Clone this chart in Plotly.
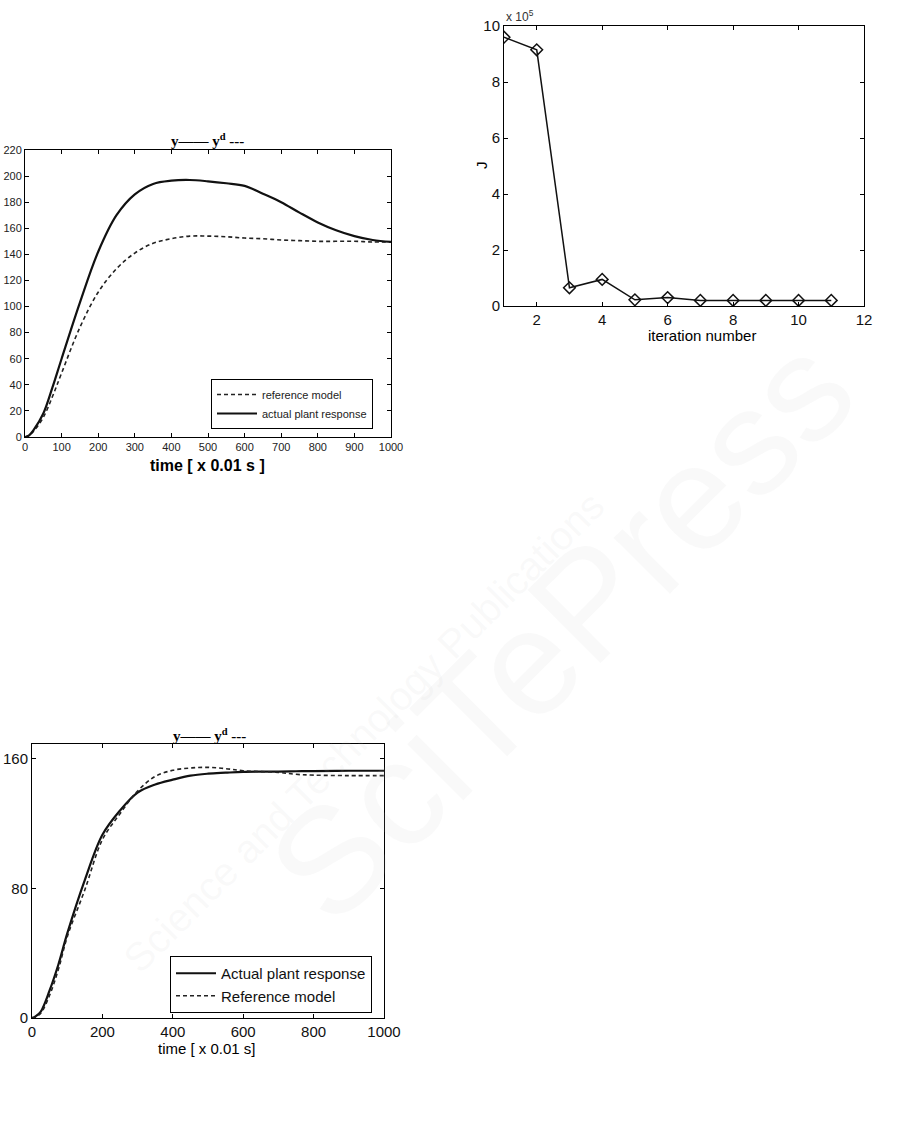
import plotly.graph_objects as go

# ---------------- data ----------------
t1 = [0, 10, 25, 50, 75, 100, 150, 200, 250, 300, 350, 400, 450, 500, 550, 600, 650, 700, 750, 800, 850, 900, 950, 1000]
actual1 = [0, 1, 6, 18, 38, 60, 103, 142, 170, 186, 194, 196.5, 197, 196, 194.5, 192.5, 186.5, 180, 172, 164.5, 158.5, 154, 151, 149.5]
ref1 = [0, 1, 5, 15, 31, 49, 84, 111, 129, 141, 148.5, 152, 154, 154, 153.5, 152.5, 152, 151, 150.5, 150, 150, 150, 149.5, 149.5]

iters = [1, 2, 3, 4, 5, 6, 7, 8, 9, 10, 11]
J = [9.6, 9.15, 0.65, 0.95, 0.22, 0.3, 0.2, 0.2, 0.2, 0.2, 0.2]  # x 10^5

t3 = [0, 10, 25, 50, 75, 100, 150, 200, 250, 300, 350, 400, 450, 500, 550, 600, 700, 750, 800, 900, 1000]
actual3 = [0, 1, 4, 17, 33, 52, 85, 113, 128, 139, 144, 147, 149.5, 150.7, 151.3, 151.8, 152, 152.2, 152.3, 152.5, 152.5]
ref3 = [0, 0.5, 3, 14, 30, 50, 79, 110, 126, 140, 149, 152.8, 154.2, 154.6, 153.8, 152.5, 151.5, 150.3, 149.8, 149.5, 149.5]

W, H = 905, 1144
def px(p):
    return p / W
def py(p):
    return 1 - p / H
def dx(a, b):
    return [px(a), px(b)]
def dy(top, bot):
    return [py(bot), py(top)]

DASH = "4px,3px"
fig = go.Figure()

# plot 1
fig.add_trace(go.Scatter(x=t1, y=ref1, mode="lines", line=dict(color="#222", width=1.6, dash=DASH, shape="spline"),
                         name="reference model", xaxis="x", yaxis="y", legend="legend"))
fig.add_trace(go.Scatter(x=t1, y=actual1, mode="lines", line=dict(color="#111", width=2.2, shape="spline"),
                         name="actual plant response", xaxis="x", yaxis="y", legend="legend"))
# plot 2
fig.add_trace(go.Scatter(x=iters, y=J, mode="lines+markers", line=dict(color="#111", width=1.5),
                         marker=dict(symbol="diamond-open", size=9, color="#111", line=dict(width=1.5)),
                         showlegend=False, xaxis="x2", yaxis="y2"))
# plot 3
fig.add_trace(go.Scatter(x=t3, y=actual3, mode="lines", line=dict(color="#111", width=2.2, shape="spline"),
                         name="Actual plant response", xaxis="x3", yaxis="y3", legend="legend2"))
fig.add_trace(go.Scatter(x=t3, y=ref3, mode="lines", line=dict(color="#222", width=1.6, dash=DASH, shape="spline"),
                         name="Reference model", xaxis="x3", yaxis="y3", legend="legend2"))

ax_common = dict(showgrid=False, zeroline=False, showline=True, linecolor="black", linewidth=1,
                 mirror="ticks", ticks="inside", ticklen=4, tickcolor="black", automargin=False)

fig.update_layout(
    width=W, height=H, margin=dict(l=0, r=0, t=0, b=0, autoexpand=False),
    paper_bgcolor="white", plot_bgcolor="white",
    font=dict(family="Liberation Sans, Arial, sans-serif", color="black"),
    xaxis=dict(**ax_common, domain=dx(25, 391), range=[0, 1000], tickvals=list(range(0, 1001, 100)),
               tickfont=dict(size=11, color="#222"), anchor="y"),
    yaxis=dict(**ax_common, domain=dy(150, 437), range=[0, 220], tickvals=list(range(0, 221, 20)),
               tickfont=dict(size=11, color="#222"), anchor="x"),
    xaxis2=dict(**ax_common, domain=dx(504, 864), range=[1, 12], tickvals=[2, 4, 6, 8, 10, 12],
                tickfont=dict(size=15, color="#111"), anchor="y2"),
    yaxis2=dict(**ax_common, domain=dy(26, 306), range=[0, 10], tickvals=[0, 2, 4, 6, 8, 10],
                tickfont=dict(size=15, color="#111"), anchor="x2"),
    xaxis3=dict(**ax_common, domain=dx(32, 384), range=[0, 1000], tickvals=[0, 200, 400, 600, 800, 1000],
                tickfont=dict(size=15, color="#111"), anchor="y3"),
    yaxis3=dict(**ax_common, domain=dy(744, 1018), range=[0, 169], tickvals=[0, 80, 160],
                tickfont=dict(size=15, color="#111"), anchor="x3"),
    legend=dict(x=px(373), y=py(429), xanchor="right", yanchor="bottom",
                bgcolor="white", bordercolor="black", borderwidth=1,
                font=dict(size=11, color="#222"), tracegroupgap=0, itemwidth=40),
    legend2=dict(x=px(372), y=py(1013), xanchor="right", yanchor="bottom",
                 bgcolor="white", bordercolor="black", borderwidth=1,
                 font=dict(size=15, color="#111"), tracegroupgap=0, itemwidth=40),
)

serif = "Liberation Serif, Times New Roman, serif"
ann = [
    dict(text="<b>y—— y<sup>d</sup> ---</b>", x=px(207), y=py(140), font=dict(family=serif, size=15)),
    dict(text="<b>time [ x 0.01 s ]</b>", x=px(207), y=py(465), font=dict(size=16)),
    dict(text="x 10<sup>5</sup>", x=px(504), y=py(16), xanchor="left", font=dict(size=12, color="#333")),
    dict(text="J", x=px(482), y=py(165), textangle=-90, font=dict(size=15)),
    dict(text="iteration number", x=px(702), y=py(335), font=dict(size=15)),
    dict(text="<b>y—— y<sup>d</sup> ---</b>", x=px(209), y=py(735), font=dict(family=serif, size=15)),
    dict(text="time [ x 0.01 s]", x=px(207), y=py(1048), font=dict(size=15)),
]
for a in ann:
    a.setdefault("xanchor", "center")
    fig.add_annotation(xref="paper", yref="paper", showarrow=False, yanchor="middle", **a)

# faint publisher watermark
fig.add_annotation(xref="paper", yref="paper", x=0.62, y=0.45, showarrow=False, textangle=-45,
                   text="SciTePress", font=dict(size=150, color="rgba(200,200,200,0.10)", family="Liberation Sans"))
fig.add_annotation(xref="paper", yref="paper", x=0.68, y=0.36, showarrow=False, textangle=-45,
                   text="Science and Technology Publications",
                   font=dict(size=40, color="rgba(200,200,200,0.10)", family="Liberation Sans"))

fig.write_html("out.html", config={"displayModeBar": False},
               post_script="document.body.style.margin='0';")
